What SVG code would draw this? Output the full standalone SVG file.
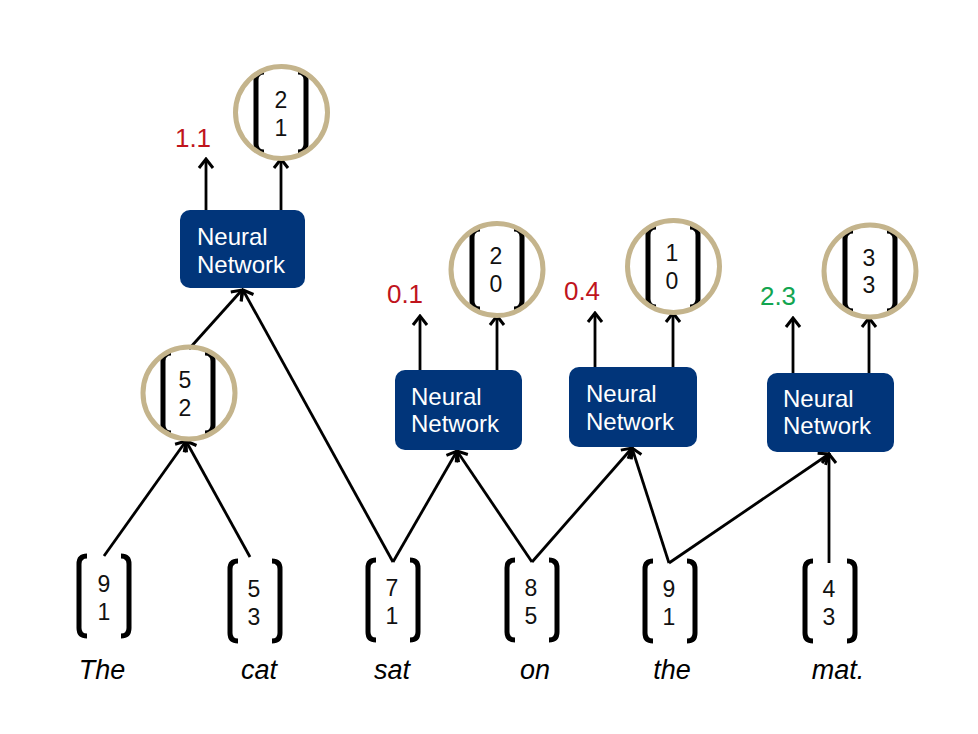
<svg xmlns="http://www.w3.org/2000/svg" width="978" height="734" viewBox="0 0 978 734">
<style>
.br{fill:none;stroke:#000;stroke-width:5}
.ring{fill:none;stroke:#c4b48c;stroke-width:5}
.num{font-family:"Liberation Sans",Arial,sans-serif;font-size:23px;fill:#111;text-anchor:middle}
.word{font-family:"Liberation Sans",Arial,sans-serif;font-size:27px;font-style:italic;fill:#000;text-anchor:middle}
.nn{fill:#01357a}
.nnt{font-family:"Liberation Sans",Arial,sans-serif;font-size:24px;fill:#fff}
.score{font-family:"Liberation Sans",Arial,sans-serif;font-size:26px;text-anchor:middle}
.red{fill:#c0141c}
.green{fill:#12a550}
.ln{fill:none;stroke:#000;stroke-width:2.8;marker-end:url(#arr)}
</style>
<defs>
<marker id="arr" viewBox="-12 -10 14 20" refX="0" refY="0" markerWidth="14" markerHeight="20" markerUnits="userSpaceOnUse" orient="auto">
<path d="M-9,-7 L0,0 L-9,7" fill="none" stroke="#000" stroke-width="3"/>
</marker>
<g id="brk">
<path class="br" d="M8,0 Q0,0 0,8 L0,72 Q0,80 8,80"/>
<path class="br" d="M42,0 Q50,0 50,8 L50,72 Q50,80 42,80"/>
</g>
</defs>
<rect width="978" height="734" fill="#fff"/>

<g id="connectors">
<line class="ln" x1="104" y1="556" x2="186" y2="441"/>
<line class="ln" x1="250" y1="557" x2="186" y2="441"/>
<line class="ln" x1="189" y1="349" x2="242" y2="290"/>
<line class="ln" x1="393" y1="562" x2="243" y2="290"/>
<line class="ln" x1="393" y1="562" x2="457" y2="451"/>
<line class="ln" x1="532" y1="562" x2="457" y2="451"/>
<line class="ln" x1="532" y1="562" x2="632" y2="448"/>
<line class="ln" x1="669" y1="563" x2="632" y2="448"/>
<line class="ln" x1="669" y1="563" x2="829" y2="454"/>
<line class="ln" x1="829" y1="563" x2="829" y2="454"/>
<line class="ln" x1="206" y1="210" x2="206" y2="159"/>
<line class="ln" x1="281" y1="210" x2="281" y2="159"/>
<line class="ln" x1="420" y1="370" x2="420" y2="316"/>
<line class="ln" x1="497" y1="370" x2="497" y2="316"/>
<line class="ln" x1="595" y1="367" x2="595" y2="313"/>
<line class="ln" x1="673" y1="367" x2="673" y2="313"/>
<line class="ln" x1="793" y1="373" x2="793" y2="318"/>
<line class="ln" x1="869" y1="373" x2="869" y2="318"/>
</g>

<g id="v-the">
<use href="#brk" transform="translate(79,556)"/>
<text class="num" x="104" y="592">9</text>
<text class="num" x="104" y="620">1</text>
<text class="word" x="102" y="679">The</text>
</g>
<g id="v-cat">
<use href="#brk" transform="translate(230,561)"/>
<text class="num" x="254" y="597">5</text>
<text class="num" x="254" y="625">3</text>
<text class="word" x="259" y="679">cat</text>
</g>
<g id="v-sat">
<use href="#brk" transform="translate(368,560)"/>
<text class="num" x="392" y="596">7</text>
<text class="num" x="392" y="624">1</text>
<text class="word" x="392" y="679">sat</text>
</g>
<g id="v-on">
<use href="#brk" transform="translate(507,560)"/>
<text class="num" x="531" y="596">8</text>
<text class="num" x="531" y="624">5</text>
<text class="word" x="535" y="679">on</text>
</g>
<g id="v-the2">
<use href="#brk" transform="translate(645,561)"/>
<text class="num" x="669" y="597">9</text>
<text class="num" x="669" y="625">1</text>
<text class="word" x="672" y="679">the</text>
</g>
<g id="v-mat">
<use href="#brk" transform="translate(805,561)"/>
<text class="num" x="829" y="597">4</text>
<text class="num" x="829" y="625">3</text>
<text class="word" x="838" y="679">mat.</text>
</g>

<g id="c-52">
<use href="#brk" transform="translate(163,353)"/>
<circle class="ring" cx="189" cy="393" r="46"/>
<text class="num" x="185" y="388">5</text>
<text class="num" x="185" y="416">2</text>
</g>
<g id="c-21">
<use href="#brk" transform="translate(256,72)"/>
<circle class="ring" cx="281.5" cy="112.5" r="46"/>
<text class="num" x="281" y="108">2</text>
<text class="num" x="281" y="136">1</text>
</g>
<g id="c-20">
<use href="#brk" transform="translate(472,229)"/>
<circle class="ring" cx="497" cy="269.5" r="46"/>
<text class="num" x="496" y="264">2</text>
<text class="num" x="496" y="292">0</text>
</g>
<g id="c-10">
<use href="#brk" transform="translate(648,227)"/>
<circle class="ring" cx="673.5" cy="266.5" r="46"/>
<text class="num" x="672" y="261">1</text>
<text class="num" x="672" y="289">0</text>
</g>
<g id="c-33">
<use href="#brk" transform="translate(845,231)"/>
<circle class="ring" cx="870" cy="271" r="46"/>
<text class="num" x="869" y="266">3</text>
<text class="num" x="869" y="293">3</text>
</g>

<g id="nn1">
<rect class="nn" x="180" y="210" width="125" height="78" rx="10"/>
<text class="nnt" x="197" y="245">Neural</text>
<text class="nnt" x="197" y="273">Network</text>
</g>
<g id="nn2">
<rect class="nn" x="395" y="370" width="127" height="80" rx="10"/>
<text class="nnt" x="411" y="405">Neural</text>
<text class="nnt" x="411" y="432">Network</text>
</g>
<g id="nn3">
<rect class="nn" x="569" y="367" width="128" height="80" rx="10"/>
<text class="nnt" x="586" y="402">Neural</text>
<text class="nnt" x="586" y="430">Network</text>
</g>
<g id="nn4">
<rect class="nn" x="767" y="373" width="127" height="79" rx="10"/>
<text class="nnt" x="783" y="407">Neural</text>
<text class="nnt" x="783" y="434">Network</text>
</g>

<g id="scores">
<text class="score red" x="193" y="147">1.1</text>
<text class="score red" x="405" y="303">0.1</text>
<text class="score red" x="582" y="300">0.4</text>
<text class="score green" x="778" y="305">2.3</text>
</g>
</svg>
